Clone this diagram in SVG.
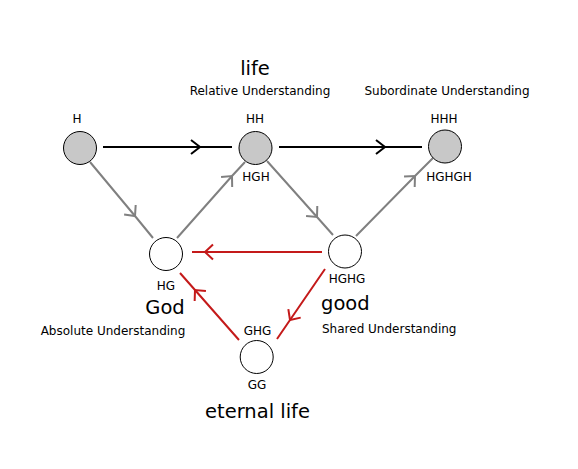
<svg xmlns="http://www.w3.org/2000/svg" width="578" height="469" viewBox="0 0 578 469">
<style>
text{font-family:"DejaVu Sans","Liberation Sans",sans-serif;fill:#000;text-anchor:middle}
.s{font-size:12px}
.b{font-size:19.5px}
.l{text-anchor:start}
.n{stroke:#000;stroke-width:1}
.g{fill:#c8c8c8}
.w{fill:#fff}
.e{fill:none;stroke-width:2}
.k{stroke:#000;marker-mid:url(#ak)}
.y{stroke:#808080;marker-mid:url(#ay)}
.r{stroke:#c41a1a;marker-mid:url(#ar)}
</style>
<defs>
<marker id="ak" markerUnits="userSpaceOnUse" markerWidth="20" markerHeight="20" refX="10" refY="10" orient="auto" viewBox="0 0 20 20" overflow="visible"><path d="M1,3 L10,10 L1,17" fill="none" stroke="#000" stroke-width="2"/></marker>
<marker id="ay" markerUnits="userSpaceOnUse" markerWidth="20" markerHeight="20" refX="10" refY="10" orient="auto" viewBox="0 0 20 20" overflow="visible"><path d="M2,2.5 L10,10 L2,17.5" fill="none" stroke="#808080" stroke-width="2"/></marker>
<marker id="ar" markerUnits="userSpaceOnUse" markerWidth="20" markerHeight="20" refX="10" refY="10" orient="auto" viewBox="0 0 20 20" overflow="visible"><path d="M2,2.5 L10,10 L2,17.5" fill="none" stroke="#c41a1a" stroke-width="2"/></marker>
</defs>
<rect width="578" height="469" fill="#fff"/>
<g id="connectors">
<path class="e k" d="M103,147 L200,147 L232,147"/>
<path class="e k" d="M279,147 L385,147 L422,147"/>
<path class="e y" d="M90,162 L135,216 L153,238"/>
<path class="e y" d="M177,238 L232,176 L245,162"/>
<path class="e y" d="M267,161 L317,217 L333,235"/>
<path class="e y" d="M356,236 L415,176 L433,158"/>
<path class="e r" d="M322,252 L205,252 L192,252"/>
<path class="e r" d="M325,269 L290,320 L277,339"/>
<path class="e r" d="M239,340 L195,290 L180,273"/>
</g>
<g id="H">
<circle class="n g" cx="80" cy="148" r="16.5"/>
<text class="s" x="77" y="123">H</text>
</g>
<g id="HH">
<circle class="n g" cx="255.5" cy="148" r="16.5"/>
<text class="s" x="255" y="123">HH</text>
<text class="s" x="256" y="181">HGH</text>
<text class="b" x="255" y="75">life</text>
<text class="s" x="260" y="95">Relative Understanding</text>
</g>
<g id="HHH">
<circle class="n g" cx="445" cy="146.5" r="16.5"/>
<text class="s" x="444" y="123">HHH</text>
<text class="s" x="449" y="181">HGHGH</text>
<text class="s" x="447" y="95">Subordinate Understanding</text>
</g>
<g id="HG">
<circle class="n w" cx="166" cy="254" r="16.5"/>
<text class="s" x="166" y="290">HG</text>
<text class="b" x="165" y="314">God</text>
<text class="s" x="113" y="335">Absolute Understanding</text>
</g>
<g id="HGHG">
<circle class="n w" cx="345" cy="251.5" r="16.5"/>
<text class="s" x="347" y="283">HGHG</text>
<text class="b l" x="321" y="310">good</text>
<text class="s l" x="322" y="333">Shared Understanding</text>
</g>
<g id="GG">
<circle class="n w" cx="256.7" cy="357" r="16.5"/>
<text class="s" x="257.5" y="335">GHG</text>
<text class="s" x="257" y="389">GG</text>
<text class="b" x="257.5" y="418">eternal life</text>
</g>
</svg>
